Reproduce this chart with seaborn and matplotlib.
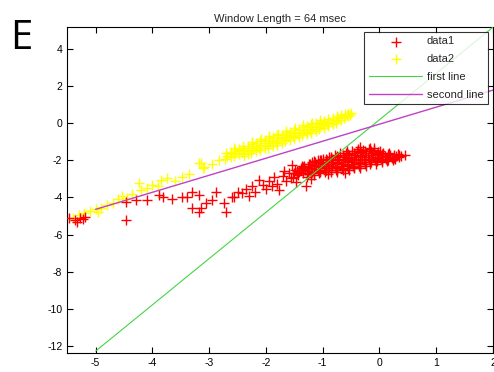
import matplotlib
matplotlib.use('Agg')
import matplotlib.pyplot as plt
import pandas as pd
import seaborn as sns

# data1 (red +) : left tail then dense cloud
data1_x = [-5.46, -5.37, -5.28, -5.22, -5.32, -5.18, -4.46,
           -4.46, -4.28, -4.10, -3.88, -3.82, -3.65, -3.47, -3.39, -3.30, -3.18,
           -3.05, -3.30, -3.18, -2.95, -2.88, -2.74, -2.70, -2.56, -3.14, -2.60,
           -2.42, -2.20, -2.12, -2.25, -1.90, -1.77, -1.54, -1.60, -1.47, -1.30,
           -2.50, -2.35, -2.30, -2.05, -1.95, -1.85, -1.70, -1.65, -1.80, -2.00,
           -1.55, -1.45, -1.68,
           -1.50, -1.48, -1.53, -1.41, -1.38, -1.43, -1.36,
           -1.31, -1.28, -1.33, -1.27, -1.24,
           -1.21, -1.18, -1.23, -1.16, -1.19,
           -1.11, -1.08, -1.13, -1.06, -1.09, -1.04,
           -1.01, -0.98, -1.03, -0.96, -0.99, -0.94,
           -0.91, -0.88, -0.93, -0.86, -0.89, -0.84,
           -0.81, -0.78, -0.83, -0.76, -0.79, -0.74,
           -0.71, -0.68, -0.73, -0.66, -0.69, -0.64,
           -0.61, -0.58, -0.63, -0.56, -0.59, -0.54, -0.57,
           -0.51, -0.48, -0.53, -0.46, -0.49, -0.44,
           -0.41, -0.38, -0.43, -0.36, -0.39, -0.34, -0.37,
           -0.31, -0.28, -0.33, -0.26, -0.29, -0.24,
           -0.21, -0.18, -0.23, -0.16, -0.19, -0.17,
           -0.11, -0.08, -0.13, -0.06, -0.09,
           -0.01, 0.02, -0.03, 0.04, 0.01,
           0.09, 0.12, 0.07, 0.14,
           0.19, 0.22, 0.17, 0.24,
           0.29, 0.32, 0.27, 0.38]
data1_y = [-5.10, -5.20, -5.10, -5.15, -5.30, -5.05, -5.20,
           -4.25, -4.14, -4.14, -3.87, -4.00, -4.10, -4.00, -4.00, -3.70, -3.87,
           -4.30, -4.57, -4.80, -4.14, -3.70, -4.30, -4.80, -3.98, -4.57, -4.00,
           -3.76, -3.70, -3.06, -3.40, -3.40, -3.60, -2.26, -2.70, -3.17, -3.40,
           -3.70, -3.55, -3.90, -3.30, -3.10, -2.90, -2.85, -3.10, -3.25, -3.55,
           -2.95, -2.75, -2.55,
           -2.70, -2.50, -2.90, -2.60, -2.40, -2.80, -2.30,
           -2.50, -2.70, -2.30, -2.90, -2.20,
           -2.40, -2.60, -2.20, -2.80, -2.10,
           -2.30, -2.50, -2.10, -2.70, -2.00, -2.60,
           -2.20, -2.40, -2.00, -2.60, -1.90, -2.50,
           -2.20, -2.40, -2.00, -2.60, -1.80, -2.30,
           -2.10, -2.30, -1.90, -2.50, -1.70, -2.60,
           -2.00, -2.20, -1.80, -2.40, -1.60, -2.50,
           -2.00, -2.20, -1.80, -2.40, -1.60, -2.50, -1.50,
           -1.90, -2.10, -1.70, -2.30, -1.50, -2.40,
           -1.90, -2.10, -1.70, -2.30, -1.50, -2.40, -1.40,
           -1.80, -2.00, -1.60, -2.20, -1.45, -2.30,
           -1.80, -2.00, -1.60, -2.20, -1.40, -1.30,
           -1.80, -2.00, -1.60, -2.20, -1.45,
           -1.70, -1.90, -1.55, -2.10, -1.50,
           -1.75, -1.90, -1.60, -2.05,
           -1.70, -1.85, -1.60, -2.00,
           -1.75, -1.65, -1.90, -1.75]

# more data1 points filling the dense cloud
data1_extra_x = [-1.45, -1.45, -1.35, -1.35, -1.35, -1.25, -1.25, -1.25,
                 -1.15, -1.15, -1.15, -1.15, -1.05, -1.05, -1.05, -1.05,
                 -0.95, -0.95, -0.95, -0.95, -0.85, -0.85, -0.85, -0.85,
                 -0.75, -0.75, -0.75, -0.75, -0.75, -0.65, -0.65, -0.65, -0.65, -0.65,
                 -0.55, -0.55, -0.55, -0.55, -0.55, -0.45, -0.45, -0.45, -0.45, -0.45,
                 -0.35, -0.35, -0.35, -0.35, -0.35, -0.25, -0.25, -0.25, -0.25,
                 -0.15, -0.15, -0.15, -0.15, -0.05, -0.05, -0.05,
                 0.05, 0.05, 0.05, 0.15, 0.15, 0.15, 0.25, 0.25, 0.35, 0.35,
                 -0.35, -0.10, 0.45, -1.20, -0.90, -0.60]
data1_extra_y = [-2.55, -2.65, -2.45, -2.70, -2.35, -2.35, -2.55, -2.75,
                 -2.25, -2.45, -2.65, -2.05, -2.15, -2.35, -2.55, -1.95,
                 -2.10, -2.30, -2.50, -1.90, -2.00, -2.20, -2.40, -1.80,
                 -1.95, -2.15, -2.35, -1.75, -2.50, -1.90, -2.10, -2.30, -1.70, -2.45,
                 -1.85, -2.05, -2.25, -1.65, -2.40, -1.80, -2.00, -2.20, -1.60, -2.35,
                 -1.75, -1.95, -2.15, -1.55, -2.30, -1.70, -1.90, -2.10, -1.50,
                 -1.70, -1.90, -2.10, -1.50, -1.65, -1.85, -2.05,
                 -1.65, -1.80, -1.95, -1.65, -1.80, -1.95, -1.70, -1.85, -1.70, -1.80,
                 -1.25, -1.30, -1.70, -3.00, -2.75, -2.70]

# data2 (yellow +) : left tail then dense band
data2_x = [-5.40, -5.30, -5.20, -5.10, -5.00, -4.90, -4.95, -4.80, -4.70, -4.60,
           -4.54, -4.45, -4.35, -4.23, -4.20, -4.10, -4.00, -3.90, -3.84, -3.75,
           -3.60, -3.47, -3.35, -3.18, -3.10, -2.95, -2.82, -3.14, -3.09,
           -2.70, -2.72, -2.68,
           -2.55, -2.57, -2.53, -2.56,
           -2.40, -2.42, -2.38, -2.41, -2.39,
           -2.25, -2.27, -2.23, -2.26, -2.24,
           -2.10, -2.12, -2.08, -2.11, -2.09,
           -1.95, -1.97, -1.93, -1.96, -1.94,
           -1.80, -1.82, -1.78, -1.81, -1.79,
           -1.65, -1.67, -1.63, -1.66, -1.64,
           -1.50, -1.52, -1.48, -1.51, -1.49,
           -1.35, -1.37, -1.33, -1.36, -1.34,
           -1.20, -1.22, -1.18, -1.21, -1.19,
           -1.05, -1.07, -1.03, -1.06, -1.04,
           -0.90, -0.92, -0.88, -0.91,
           -0.75, -0.77, -0.73, -0.76,
           -0.60, -0.62, -0.58,
           -0.50, -0.52]
data2_y = [-5.10, -4.95, -4.85, -4.75, -4.60, -4.55, -4.80, -4.40, -4.30, -4.10,
           -3.90, -4.05, -3.80, -3.20, -3.60, -3.50, -3.30, -3.40, -3.06, -2.95,
           -3.10, -2.90, -2.75, -2.15, -2.40, -2.20, -2.00, -2.15, -2.37,
           -1.60, -1.90, -1.75,
           -1.45, -1.75, -1.60, -1.30,
           -1.30, -1.60, -1.45, -1.20, -1.75,
           -1.10, -1.45, -1.30, -1.60, -1.00,
           -0.95, -1.30, -1.15, -1.45, -0.85,
           -0.80, -1.15, -0.95, -1.30, -0.70,
           -0.65, -1.00, -0.80, -1.15, -0.55,
           -0.50, -0.85, -0.65, -0.95, -0.40,
           -0.35, -0.70, -0.50, -0.80, -0.25,
           -0.20, -0.50, -0.35, -0.65, -0.10,
           -0.05, -0.35, -0.20, -0.50, 0.05,
           0.10, -0.20, -0.05, -0.30, 0.20,
           0.25, -0.05, 0.10, -0.15,
           0.40, 0.15, 0.30, 0.05,
           0.50, 0.30, 0.45,
           0.55, 0.45]

# more data2 points filling the band
data2_extra_x = [-2.62, -2.62, -2.62, -2.48, -2.48, -2.48,
                 -2.32, -2.32, -2.32, -2.32, -2.18, -2.18, -2.18, -2.18,
                 -2.02, -2.02, -2.02, -2.02, -1.88, -1.88, -1.88, -1.88,
                 -1.72, -1.72, -1.72, -1.72, -1.58, -1.58, -1.58, -1.58,
                 -1.42, -1.42, -1.42, -1.42, -1.28, -1.28, -1.28, -1.28,
                 -1.12, -1.12, -1.12, -1.12, -0.98, -0.98, -0.98, -0.98,
                 -0.82, -0.82, -0.82, -0.82, -0.68, -0.68, -0.68, -0.55, -0.55]
data2_extra_y = [-1.55, -1.80, -1.65, -1.40, -1.65, -1.50,
                 -1.20, -1.50, -1.35, -1.65, -1.05, -1.35, -1.20, -1.50,
                 -0.90, -1.20, -1.05, -1.35, -0.75, -1.05, -0.90, -1.20,
                 -0.60, -0.90, -0.75, -1.05, -0.45, -0.75, -0.60, -0.90,
                 -0.30, -0.60, -0.45, -0.75, -0.15, -0.45, -0.30, -0.55,
                 0.00, -0.30, -0.15, -0.40, 0.15, -0.10, 0.05, -0.25,
                 0.30, 0.05, 0.20, -0.05, 0.45, 0.20, 0.35, 0.50, 0.40]

first_line_x = [-5.0, 2.0]
first_line_y = [-12.3, 5.2]
second_line_x = [-5.0, 2.0]
second_line_y = [-4.64, 1.80]

sns.set_style('ticks')
plt.rcParams['font.family'] = ['Liberation Sans', 'DejaVu Sans']
plt.rcParams['axes.unicode_minus'] = False

fig = plt.figure(figsize=(4.94, 3.72), dpi=100)
ax = fig.add_axes([0.136, 0.051, 0.862, 0.876])

d1 = pd.DataFrame({'x': data1_x + data1_extra_x, 'y': data1_y + data1_extra_y})
d2 = pd.DataFrame({'x': data2_x + data2_extra_x, 'y': data2_y + data2_extra_y})

sns.scatterplot(data=d1, x='x', y='y', ax=ax, marker='+', color='#ff0000',
                s=55, linewidth=1.0, label='data1', zorder=3)
sns.scatterplot(data=d2, x='x', y='y', ax=ax, marker='+', color='#ffff00',
                s=55, linewidth=1.0, label='data2', zorder=2)
sns.lineplot(x=first_line_x, y=first_line_y, ax=ax, color='#44d444',
             linewidth=0.8, label='first line', zorder=4)
sns.lineplot(x=second_line_x, y=second_line_y, ax=ax, color='#c040c8',
             linewidth=1.0, label='second line', zorder=4)

ax.set_xlim(-5.5, 2)
ax.set_ylim(-12.4, 5.2)
ax.set_xticks(range(-5, 3))
ax.set_yticks(range(-12, 5, 2))
ax.tick_params(direction='in', length=4, width=0.8, labelsize=7.5,
               top=True, right=True, colors='black')
for sp in ax.spines.values():
    sp.set_linewidth(0.8)
    sp.set_color('black')
ax.set_xlabel('')
ax.set_ylabel('')
ax.set_title('Window Length = 64 msec', fontsize=8, pad=4)

leg = ax.legend(loc='upper right', bbox_to_anchor=(0.988, 0.985), fontsize=8,
                frameon=True, fancybox=False, edgecolor='black',
                borderaxespad=0, handlelength=4.8, labelspacing=0.7,
                borderpad=0.4, handletextpad=0.4, markerscale=1.0)
leg.get_frame().set_linewidth(0.8)

fig.text(0.02, 0.868, 'E', fontsize=29, fontweight='medium', color='black',
         family=['Open Sans', 'DejaVu Sans'])

fig.savefig('out.png', dpi=100)
